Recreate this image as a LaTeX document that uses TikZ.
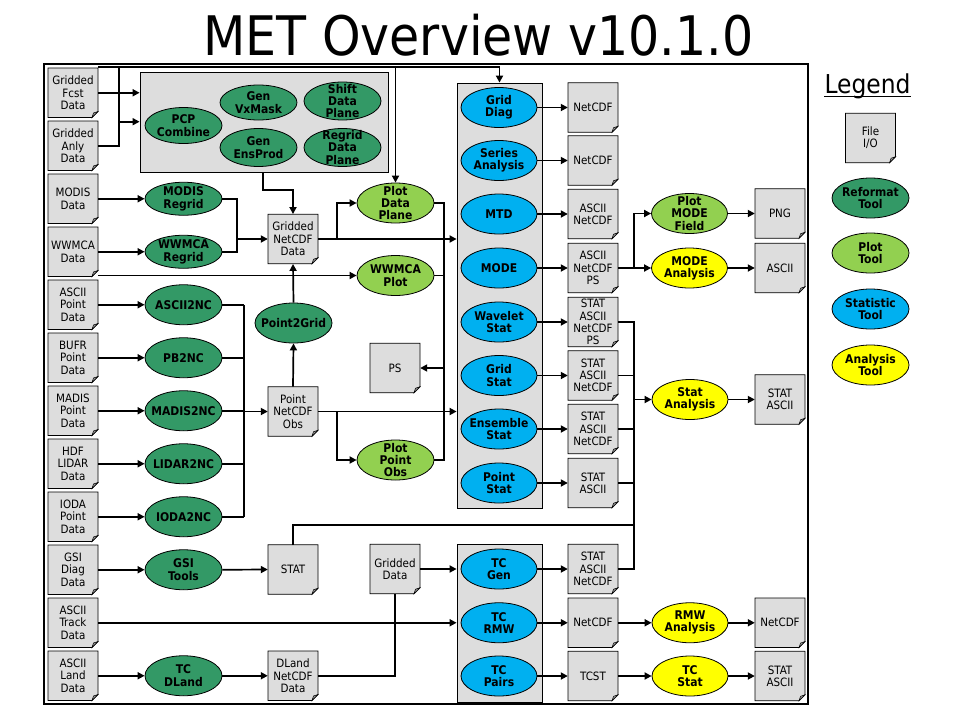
\documentclass[tikz,border=0pt]{standalone}
\usepackage{fontspec}
\setmainfont{DejaVu Sans Condensed}
\usetikzlibrary{shapes.geometric,arrows.meta}
\definecolor{dkg}{HTML}{339966}
\definecolor{ltg}{HTML}{92D050}
\definecolor{blu}{HTML}{00B0F0}
\definecolor{yel}{HTML}{FFFF00}
\definecolor{fgray}{HTML}{DDDDDD}
\definecolor{fold}{HTML}{999999}
\tikzset{
  conn/.style={line width=1.7pt},
  arr/.style={conn,-{Triangle[length=7pt,width=7pt]}},
  ftxt/.style={font=\fontsize{11.5}{12.3}\selectfont, align=center, inner sep=0pt, minimum width=50pt, minimum height=49.5pt},
  etxt/.style={font=\bfseries\fontsize{12}{12.3}\selectfont, align=center, inner sep=0pt},
  eshape/.style={ellipse, draw, line width=0.8pt, inner sep=0pt},
  graybox/.style={draw, fill=fgray, line width=0.8pt, inner sep=0pt},
}
\newcommand\fbx[4]{%
  \path[draw, fill=fgray, line width=0.8pt] (#2-25,#3-24.75) -- (#2+25,#3-24.75) -- (#2+25,#3+18.75) -- (#2+19,#3+24.75) -- (#2-25,#3+24.75) -- cycle;
  \path[draw, fill=fold, line width=0.5pt] (#2+25,#3+18.75) -- (#2+19,#3+24.75) -- (#2+20.5,#3+20.25) -- cycle;
  \node[ftxt] (#1) at (#2,#3) {#4};}
\newcommand\enode[7]{%
  \node[eshape, fill=#6, minimum width=#4pt, minimum height=#5pt] (#1) at (#2,#3) {};
  \node[etxt] at (#1.center) {#7};}
\begin{document}
\begin{tikzpicture}[x=1pt,y=-1pt]
\useasboundingbox (0,0) rectangle (960,720);
\fill[white] (0,0) rectangle (960,720);
% title
\node[font=\fontsize{54.5}{60}\selectfont, anchor=base, inner sep=0pt] (title) at (478.5,55.5) {MET Overview v10.1.0};
% frame
\draw[line width=2pt] (44,64) rectangle (808,704);
% gray boxes
\node[graybox, minimum width=248pt, minimum height=100pt] (rbox) at (264,122) {};
\node[graybox, minimum width=85pt, minimum height=425pt] (sbox) at (499.5,295.5) {};
\node[graybox, minimum width=85pt, minimum height=158pt] (tbox) at (499.5,623) {};
% data column
\fbx{dFcst}{73}{92.75}{Gridded\\Fcst\\Data}
\fbx{dAnly}{73}{145.75}{Gridded\\Anly\\Data}
\fbx{dModis}{73}{198.75}{MODIS\\Data}
\fbx{dWwmca}{73}{251.75}{WWMCA\\Data}
\fbx{dAscii}{73}{304.75}{ASCII\\Point\\Data}
\fbx{dBufr}{73}{357.75}{BUFR\\Point\\Data}
\fbx{dMadis}{73}{410.75}{MADIS\\Point\\Data}
\fbx{dHdf}{73}{463.75}{HDF\\LIDAR\\Data}
\fbx{dIoda}{73}{516.75}{IODA\\Point\\Data}
\fbx{dGsi}{73}{569.75}{GSI\\Diag\\Data}
\fbx{dTrack}{73}{622.75}{ASCII\\Track\\Data}
\fbx{dLand}{73}{675.75}{ASCII\\Land\\Data}
% reformat tools in box
\enode{ePcp}{183.5}{125.5}{77}{36}{dkg}{PCP\\Combine}
\enode{eVx}{258.5}{102.5}{77}{35}{dkg}{Gen\\VxMask}
\enode{eShift}{342.5}{101}{77}{38}{dkg}{Shift\\Data\\Plane}
\enode{eEns}{258.5}{147.5}{77}{38}{dkg}{Gen\\EnsProd}
\enode{eRegrid}{342.5}{147.5}{77}{38}{dkg}{Regrid\\Data\\Plane}
% reformat tools column
\enode{eModis}{183.5}{198.75}{77}{33}{dkg}{MODIS\\Regrid}
\enode{eWwmcaR}{183.5}{251.75}{77}{33}{dkg}{WWMCA\\Regrid}
\enode{eA2nc}{183.5}{304.75}{77}{40}{dkg}{ASCII2NC}
\enode{ePb}{183.5}{357.75}{77}{40}{dkg}{PB2NC}
\enode{eMadis}{183.5}{410.75}{77}{40}{dkg}{MADIS2NC}
\enode{eLidar}{183.5}{463.75}{77}{40}{dkg}{LIDAR2NC}
\enode{eIoda}{183.5}{516.75}{77}{40}{dkg}{IODA2NC}
\enode{eGsi}{183.5}{569.75}{77}{40}{dkg}{GSI\\Tools}
\enode{eDland}{183.5}{675.75}{77}{40}{dkg}{TC\\DLand}
\enode{ePt2g}{293.5}{323}{77}{40}{dkg}{Point2Grid}
% intermediate files
\fbx{fGrid}{293}{239}{Gridded\\NetCDF\\Data}
\fbx{fPoint}{293}{411.5}{Point\\NetCDF\\Obs}
\fbx{fStat}{293}{569.5}{STAT}
\fbx{fDland}{293}{675.75}{DLand\\NetCDF\\Data}
\fbx{fGridded}{395}{569}{Gridded\\Data}
\fbx{fPS}{395}{368}{PS}
% plot tools
\enode{ePdp}{395.5}{203}{77}{40}{ltg}{Plot\\Data\\Plane}
\enode{eWplot}{395.5}{275.5}{77}{40}{ltg}{WWMCA\\Plot}
\enode{ePpo}{395.5}{460}{77}{40}{ltg}{Plot\\Point\\Obs}
% statistic tools
\enode{eGdiag}{499}{107.5}{76}{40}{blu}{Grid\\Diag}
\enode{eSeries}{499}{160.5}{76}{40}{blu}{Series\\Analysis}
\enode{eMtd}{499}{214}{76}{40}{blu}{MTD}
\enode{eMode}{499}{268}{76}{40}{blu}{MODE}
\enode{eWave}{499}{322}{76}{40}{blu}{Wavelet\\Stat}
\enode{eGstat}{499}{375.5}{76}{40}{blu}{Grid\\Stat}
\enode{eEstat}{499}{429}{76}{40}{blu}{Ensemble\\Stat}
\enode{ePstat}{499}{483}{76}{40}{blu}{Point\\Stat}
\enode{eTcgen}{499}{569}{76}{40}{blu}{TC\\Gen}
\enode{eTcrmw}{499}{622.75}{76}{40}{blu}{TC\\RMW}
\enode{eTcpairs}{499}{676}{76}{40}{blu}{TC\\Pairs}
% outputs
\fbx{o1}{593}{107.5}{NetCDF}
\fbx{o2}{593}{160.5}{NetCDF}
\fbx{o3}{593}{214}{ASCII\\NetCDF}
\fbx{o4}{593}{268}{ASCII\\NetCDF\\PS}
\fbx{o5}{593}{322}{STAT\\ASCII\\NetCDF\\PS}
\fbx{o6}{593}{375.5}{STAT\\ASCII\\NetCDF}
\fbx{o7}{593}{429}{STAT\\ASCII\\NetCDF}
\fbx{o8}{593}{483}{STAT\\ASCII}
\fbx{oTcgen}{593}{569}{STAT\\ASCII\\NetCDF}
\fbx{oRmw}{593}{622.75}{NetCDF}
\fbx{oTcst}{593}{676}{TCST}
% analysis tools
\enode{ePmf}{689.5}{213.5}{76}{40}{ltg}{Plot\\MODE\\Field}
\enode{eModeA}{689.5}{268}{76}{40}{yel}{MODE\\Analysis}
\enode{eStatA}{690}{399.5}{76}{40}{yel}{Stat\\Analysis}
\enode{eRmwA}{690}{622.75}{76}{40}{yel}{RMW\\Analysis}
\enode{eTcstat}{690}{676}{76}{40}{yel}{TC\\Stat}
\fbx{fPng}{780}{213.5}{PNG}
\fbx{fAsciiOut}{780}{268}{ASCII}
\fbx{fStatOut}{780}{399.5}{STAT\\ASCII}
\fbx{fRmwOut}{780}{622.75}{NetCDF}
\fbx{fTcstOut}{780}{676}{STAT\\ASCII}
% legend
\node[font=\fontsize{26}{30}\selectfont, anchor=base, inner sep=0pt] (leg) at (867.5,93.3) {Legend};
\draw[line width=1.5pt] ([yshift=-3pt]leg.base west) -- ([yshift=-3pt]leg.base east);
\fbx{lFile}{870.5}{138}{File\\I/O}
\enode{lRef}{870.5}{198}{77}{40}{dkg}{Reformat\\Tool}
\enode{lPlot}{870.5}{253}{77}{40}{ltg}{Plot\\Tool}
\enode{lStat}{870.5}{309}{77}{40}{blu}{Statistic\\Tool}
\enode{lAna}{870.5}{365}{77}{40}{yel}{Analysis\\Tool}
% ---------------- connectors
\coordinate (ja) at (119,121.7);
\coordinate (jt) at (98,67);
\coordinate (jp) at (395.5,67);
\coordinate (jr) at (262.7,172);
\coordinate (jg) at (237,239);
\coordinate (jw) at (98,275.5);
\coordinate (jps) at (444,368);
\coordinate (jn) at (244,411.5);
\coordinate (js) at (634,399.5);
\coordinate (jm) at (634,268);
\draw[arr] (dFcst.east) -- (dFcst.east -| rbox.west);
\draw[conn] (dAnly.east) -- (119,145.75) -- (119,67);
\draw[arr] (ja) -- (ja -| rbox.west);
\draw[arr] (jt) -| (sbox.north);
\draw[arr] (jp) -- (ePdp.north);
\draw[arr] (jr) |- (293,190) -- (fGrid.north);
\draw[conn] (eModis.east) -| (jg);
\draw[conn] (eWwmcaR.east) -| (jg);
\draw[arr] (jg) -- (fGrid.west);
\draw[arr] (fGrid.east) -- (337,239) |- (ePdp.west);
\draw[arr] (fGrid.east) -- (fGrid.east -| sbox.west);
\draw[arr] (jw) -- (eWplot.west);
\draw[conn] (ePdp.east) -- (444,203) |- (ePpo.east);
\draw[conn] (eWplot.east) -- (444,275.5);
\draw[arr] (jps) -- (fPS.east);
\draw[arr] (fPoint.east) -- (337,411.5) |- (ePpo.west);
\draw[arr] (fPoint.east) -- (fPoint.east -| sbox.west);
\draw[arr] (fPoint.north) -- (ePt2g.south);
\draw[arr] (ePt2g.north) -- (fGrid.south);
\foreach \n in {eA2nc,ePb,eMadis,eLidar,eIoda} \draw[conn] (\n.east) -- (\n.east -| jn);
\draw[conn] (244,304.75) -- (244,516.75);
\draw[arr] (jn) -- (fPoint.west);
\draw[arr] (dModis.east) -- (eModis.west);
\draw[arr] (dWwmca.east) -- (eWwmcaR.west);
\draw[arr] (dAscii.east) -- (eA2nc.west);
\draw[arr] (dBufr.east) -- (ePb.west);
\draw[arr] (dMadis.east) -- (eMadis.west);
\draw[arr] (dHdf.east) -- (eLidar.west);
\draw[arr] (dIoda.east) -- (eIoda.west);
\draw[arr] (dGsi.east) -- (eGsi.west);
\draw[arr] (dLand.east) -- (eDland.west);
\draw[arr] (eGsi.east) -- (fStat.west);
\draw[conn] (fStat.north) |- (634,525);
\draw[arr] (eDland.east) -- (fDland.west);
\draw[conn] (fDland.east) -| (fGridded.south);
\draw[arr] (fGridded.east) -- (fGridded.east -| tbox.west);
\draw[arr] (dTrack.east) -- (dTrack.east -| tbox.west);
\draw[arr] (eGdiag.east) -- (o1.west);
\draw[arr] (eSeries.east) -- (o2.west);
\draw[arr] (eMtd.east) -- (o3.west);
\draw[arr] (eMode.east) -- (o4.west);
\draw[arr] (eWave.east) -- (o5.west);
\draw[arr] (eGstat.east) -- (o6.west);
\draw[arr] (eEstat.east) -- (o7.west);
\draw[arr] (ePstat.east) -- (o8.west);
\draw[arr] (eTcgen.east) -- (oTcgen.west);
\draw[arr] (eTcrmw.east) -- (oRmw.west);
\draw[arr] (eTcpairs.east) -- (oTcst.west);
\draw[conn] (o5.east) -| (634,569) -- (oTcgen.east);
\draw[conn] (o6.east) -- (634,375.5);
\draw[conn] (o7.east) -- (634,429);
\draw[conn] (o8.east) -- (634,483);
\draw[arr] (js) -- (eStatA.west);
\draw[arr] (o4.east) -- (eModeA.west);
\draw[arr] (jm) |- (ePmf.west);
\draw[arr] (ePmf.east) -- (fPng.west);
\draw[arr] (eModeA.east) -- (fAsciiOut.west);
\draw[arr] (eStatA.east) -- (fStatOut.west);
\draw[arr] (oRmw.east) -- (eRmwA.west);
\draw[arr] (eRmwA.east) -- (fRmwOut.west);
\draw[arr] (oTcst.east) -- (eTcstat.west);
\draw[arr] (eTcstat.east) -- (fTcstOut.west);
\end{tikzpicture}
\end{document}
